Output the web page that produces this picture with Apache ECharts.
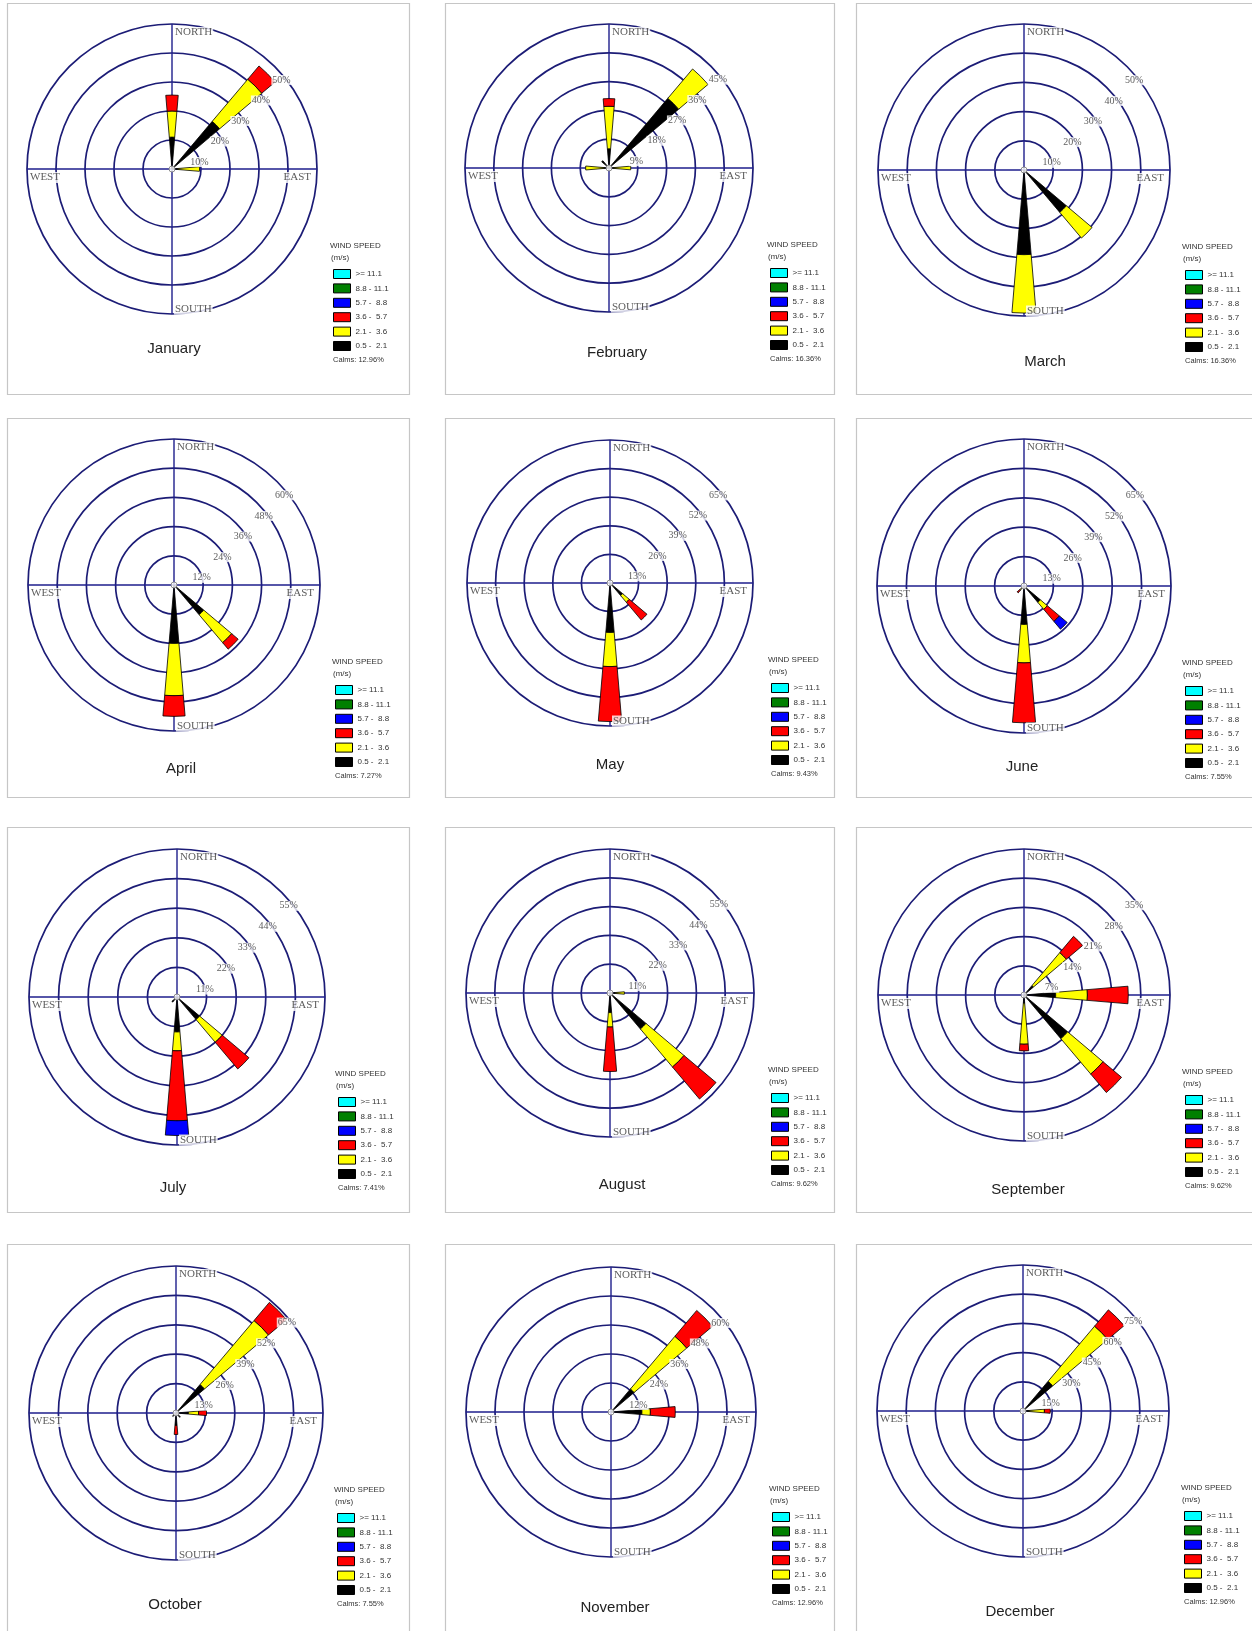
<!DOCTYPE html>
<html>
<head>
<meta charset="utf-8">
<title>Monthly wind roses</title>
<script src="https://cdn.jsdelivr.net/npm/echarts@6/dist/echarts.min.js"></script>
<style>
  html, body { margin: 0; padding: 0; background: #fff; }
  #chart { width: 1252px; height: 1631px; }
</style>
</head>
<body>
<div id="chart"></div>
<script>
// Monthly wind roses: share of hours (%) the wind blew from each of 16 directions,
// split into six speed classes that are stacked outward from the centre.

const directions = ['N', 'NNE', 'NE', 'ENE', 'E', 'ESE', 'SE', 'SSE',
                    'S', 'SSW', 'SW', 'WSW', 'W', 'WNW', 'NW', 'NNW'];
// slowest class first (innermost segment)
const speedClasses = ['0.5 -  2.1', '2.1 -  3.6', '3.6 -  5.7', '5.7 -  8.8', '8.8 - 11.1', '>= 11.1'];
const months = ['January', 'February', 'March', 'April', 'May', 'June',
                'July', 'August', 'September', 'October', 'November', 'December'];
// spacing of the rings (%) for each month; five rings per rose
const ringSteps = [10, 9, 10, 12, 13, 13, 11, 11, 7, 13, 12, 15];
const calms = [12.96, 16.36, 16.36, 7.27, 9.43, 7.55, 7.41, 9.62, 9.62, 7.55, 12.96, 12.96];

// each row: direction, then % per speed class from the slowest upward
const janRose = [['N', 11, 9, 5.5], ['NE', 21.5, 19, 6], ['E', 2, 7.5]];
const febRose = [['N', 6, 13.3, 2.4], ['NE', 28.5, 12], ['E', 1.5, 5.3], ['W', 1.5, 5.8], ['NW', 3]];
const marRose = [['S', 29, 20], ['SE', 19, 11.5]];
const aprRose = [['S', 24, 21.5, 8.5], ['SE', 16, 15, 3.5]];
const mayRose = [['S', 22.5, 15.5, 25], ['SE', 7.5, 4, 10.5]];
const junRose = [['S', 17, 17, 26.5], ['SE', 9.5, 4, 7, 4.5], ['SW', 1.5, 1, 1.5]];
const julRose = [['S', 13, 7, 26, 5.5], ['SE', 11, 11, 13], ['SW', 2.5]];
const augRose = [['S', 7.5, 5.5, 17], ['SE', 18, 19, 16], ['E', 2, 3.5]];
const sepRose = [['NE', 3, 10.3, 5.1], ['E', 7.6, 7.6, 9.8], ['SE', 13.7, 11.1, 5.8], ['S', 2, 9.8, 1.6]];
const octRose = [['NE', 16.5, 37, 10.5], ['E', 5.5, 4.5, 3.5], ['S', 5.5, 0, 4], ['SE', 2.5], ['SW', 2]];
const novRose = [['NE', 12.5, 28.5, 14], ['E', 12.8, 3.5, 10.3]];
const decRose = [['NE', 20, 37, 11], ['E', 3, 8, 3]];

const monthlyRoses = [janRose, febRose, marRose, aprRose, mayRose, junRose,
                      julRose, augRose, sepRose, octRose, novRose, decRose];

// ---- styling and page layout ----
const classColors = ['#000000', '#ffff00', '#ff0000', '#0000ff', '#008000', '#00ffff'];
const ringColor = '#1c1c76';
const crossColor = '#1e1e8c';
const serif = '"Liberation Serif", "DejaVu Serif", serif';
const sans = '"Liberation Sans", Arial, sans-serif';

// rose centre x, y and outer ring radius (px) for each panel
const panelGeom = [
  [172, 169, 145], [609, 168, 144], [1024, 170, 146],
  [174, 585, 146], [610, 583, 143], [1024, 586, 147],
  [177, 997, 148], [610, 993, 144], [1024, 995, 146],
  [176, 1413, 147], [611, 1412, 145], [1023, 1411, 146]
];
const titlePos = [
  [174, 349], [617, 353], [1045, 362],
  [181, 769], [610, 765], [1022, 767],
  [173, 1188], [622, 1185], [1028, 1190],
  [175, 1605], [615, 1608], [1020, 1612]
];
const frameCols = [[7, 409], [445, 834], [856, 1262]];
const frameRows = [[3, 394], [418, 797], [827, 1212], [1244, 1645]];

const legendOrder = speedClasses.slice().reverse();

const polar = [], angleAxis = [], radiusAxis = [], legend = [], series = [], graphic = [];

months.forEach((month, i) => {
  const [cx, cy, r] = panelGeom[i];
  const step = ringSteps[i];
  const outer = step * 5;
  const rose = monthlyRoses[i];

  // panel frame
  const [x0, x1] = frameCols[i % 3];
  const [y0, y1] = frameRows[Math.floor(i / 3)];
  graphic.push({
    type: 'rect', silent: true, z: 0,
    shape: { x: x0 + 0.5, y: y0 + 0.5, width: x1 - x0, height: y1 - y0 },
    style: { fill: 'none', stroke: '#c6c6c6', lineWidth: 1.2 }
  });

  polar.push({ center: [cx, cy], radius: [0, r] });
  angleAxis.push({
    polarIndex: i, type: 'category', data: directions,
    startAngle: 90 + 180 / directions.length, clockwise: true,
    axisLine: { show: false }, axisTick: { show: false }, axisLabel: { show: false },
    splitLine: { show: false }, splitArea: { show: false }
  });
  radiusAxis.push({
    polarIndex: i, type: 'value', min: 0, max: outer, interval: step,
    axisLine: { show: false }, axisTick: { show: false }, axisLabel: { show: false },
    splitArea: { show: false },
    splitLine: { show: true, lineStyle: { color: ringColor, width: 1.7 } }
  });

  // N-S and E-W cross lines through the centre
  [[0, 8], [4, 12]].forEach(([a, b]) => {
    series.push({
      type: 'line', coordinateSystem: 'polar', polarIndex: i, silent: true,
      data: [[outer, a], [outer, b]], symbol: 'none', z: 1,
      lineStyle: { color: crossColor, width: 1.4 }
    });
  });

  // stacked speed-class wedges
  speedClasses.forEach((cls, k) => {
    const values = directions.map(d => {
      const row = rose.find(rw => rw[0] === d);
      const v = row ? row[k + 1] : 0;
      return v ? v : '-';
    });
    series.push({
      type: 'bar', name: cls, coordinateSystem: 'polar', polarIndex: i,
      stack: 'rose' + i, data: values, barWidth: '43%', silent: true, z: 3,
      itemStyle: { color: classColors[k], borderColor: '#000', borderWidth: 0.8 }
    });
  });

  // ring percentage labels along the north-east radius
  series.push({
    type: 'scatter', coordinateSystem: 'polar', polarIndex: i, silent: true, z: 5,
    symbolSize: 1, itemStyle: { color: 'rgba(0,0,0,0)' },
    data: [1, 2, 3, 4, 5].map(k => [step * k, 2]),
    label: {
      show: true, position: 'inside', offset: [7, 13.5],
      formatter: p => p.value[0] + '%',
      fontFamily: serif, fontSize: 10, color: '#333',
      backgroundColor: '#fff', padding: [0, 1]
    }
  });

  // compass point labels on the outer ring
  series.push({
    type: 'scatter', coordinateSystem: 'polar', polarIndex: i, silent: true, z: 5,
    symbolSize: 1, itemStyle: { color: 'rgba(0,0,0,0)' },
    label: {
      show: true, position: 'inside', fontFamily: serif, fontSize: 11,
      color: '#333', backgroundColor: '#fff', padding: [0, 1]
    },
    data: [
      { value: [outer, 0], label: { formatter: 'NORTH', align: 'left', offset: [2, 8.5] } },
      { value: [outer, 8], label: { formatter: 'SOUTH', align: 'left', offset: [2, -5] } },
      { value: [outer, 12], label: { formatter: 'WEST', align: 'left', offset: [2, 8.5] } },
      { value: [outer, 4], label: { formatter: 'EAST', align: 'right', offset: [-5, 8.5] } }
    ]
  });

  // small calm circle at the centre
  series.push({
    type: 'scatter', coordinateSystem: 'polar', polarIndex: i, silent: true, z: 6,
    symbol: 'circle', symbolSize: 6,
    itemStyle: { color: '#fff', borderColor: '#777', borderWidth: 1 },
    data: [[0, 0]]
  });

  legend.push({
    orient: 'vertical', left: cx + 161, top: cy + 100, padding: 0,
    itemWidth: 17, itemHeight: 9, itemGap: 4.4, icon: 'rect', selectedMode: false,
    data: legendOrder,
    itemStyle: { borderColor: '#000', borderWidth: 1 },
    textStyle: { fontFamily: sans, fontSize: 8, lineHeight: 9, color: '#333' }
  });

  graphic.push(
    { type: 'text', silent: true, x: cx + 158, y: cy + 77,
      style: { text: 'WIND SPEED', font: '8px ' + sans, fill: '#333', align: 'left', verticalAlign: 'middle' } },
    { type: 'text', silent: true, x: cx + 159, y: cy + 89,
      style: { text: '(m/s)', font: '8px ' + sans, fill: '#333', align: 'left', verticalAlign: 'middle' } },
    { type: 'text', silent: true, x: cx + 161, y: cy + 191,
      style: { text: 'Calms: ' + calms[i].toFixed(2) + '%', font: '7.5px ' + sans, fill: '#333', align: 'left', verticalAlign: 'middle' } },
    { type: 'text', silent: true, x: titlePos[i][0], y: titlePos[i][1],
      style: { text: month, font: '15px ' + sans, fill: '#222', align: 'center', verticalAlign: 'middle' } }
  );
});

const chart = echarts.init(document.getElementById('chart'), null, { renderer: 'canvas' });
chart.setOption({
  animation: false,
  backgroundColor: '#fff',
  polar, angleAxis, radiusAxis, legend, series, graphic
});
</script>
</body>
</html>
